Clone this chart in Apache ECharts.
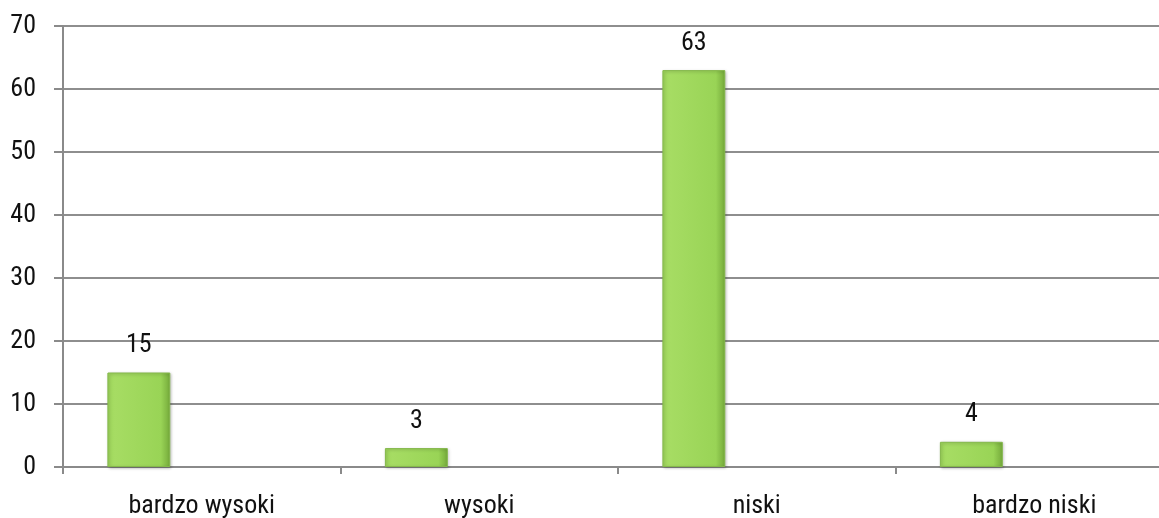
<!DOCTYPE html>
<html>
<head>
<meta charset="utf-8">
<script src="https://cdn.jsdelivr.net/npm/echarts@6/dist/echarts.min.js"></script>
<style>
  html, body { margin: 0; padding: 0; background: #fff; }
  #chart { width: 1159px; height: 518px; }
</style>
</head>
<body>
<div id="chart"></div>
<script>
// Categories and counts
var categories = ['bardzo wysoki', 'wysoki', 'niski', 'bardzo niski'];
var values = [15, 3, 63, 4];
// Two unused companion series keep each bar in the left third of its slot
var emptyA = [null, null, null, null];
var emptyB = [null, null, null, null];
var yTicks = { min: 0, max: 70, interval: 10 };

var FONT = '"Roboto Condensed", "Liberation Sans Narrow", "DejaVu Sans Condensed", Roboto, sans-serif';

var barFill = new echarts.graphic.LinearGradient(0, 0, 1, 0, [
  { offset: 0, color: '#9fd75c' },
  { offset: 0.12, color: '#a6dc63' },
  { offset: 0.85, color: '#99d456' },
  { offset: 1, color: '#74a93a' }
]);

var chart = echarts.init(document.getElementById('chart'), null, { renderer: 'canvas' });
chart.setOption({
  animation: false,
  // plot area runs a little past the right edge of the canvas
  grid: {
    left: 63, width: 1110, top: 26, bottom: 51,
    containLabel: false,
    outerBoundsMode: 'none'
  },
  xAxis: {
    type: 'category',
    data: categories,
    boundaryGap: true,
    axisLine: { lineStyle: { color: '#8a8a8a', width: 2 } },
    axisTick: { show: true, length: 7, lineStyle: { color: '#8a8a8a', width: 2 } },
    axisLabel: { color: '#111', fontSize: 26, fontFamily: FONT, margin: 26 },
    splitLine: { show: false }
  },
  yAxis: {
    type: 'value',
    min: yTicks.min,
    max: yTicks.max,
    interval: yTicks.interval,
    axisLine: { show: true, lineStyle: { color: '#8a8a8a', width: 2 } },
    axisTick: { show: true, length: 9, lineStyle: { color: '#8a8a8a', width: 2 } },
    axisLabel: { color: '#111', fontSize: 26, fontFamily: FONT, margin: 27 },
    splitLine: { show: true, lineStyle: { color: '#8e8e8e', width: 2 } }
  },
  series: [
    {
      type: 'bar',
      data: values,
      barGap: '0%',
      barCategoryGap: '32%',
      itemStyle: {
        color: barFill,
        borderColor: '#84b84a',
        borderWidth: 1,
        shadowColor: 'rgba(0,0,0,0.25)',
        shadowBlur: 3,
        shadowOffsetX: 1,
        shadowOffsetY: 1
      },
      label: {
        show: true,
        position: 'top',
        distance: 14,
        color: '#111',
        fontSize: 26,
        fontFamily: FONT
      }
    },
    { type: 'bar', data: emptyA, barGap: '0%', barCategoryGap: '32%' },
    { type: 'bar', data: emptyB, barGap: '0%', barCategoryGap: '32%' }
  ]
});
</script>
</body>
</html>
